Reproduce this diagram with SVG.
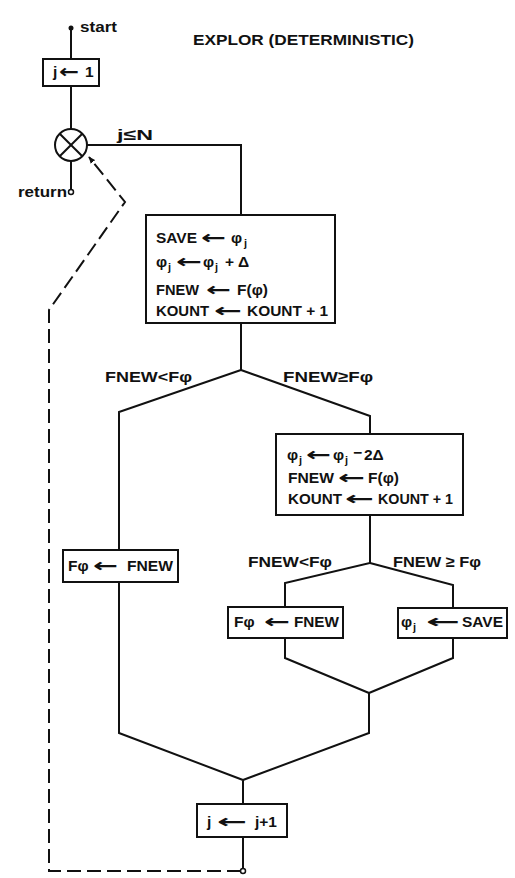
<svg xmlns="http://www.w3.org/2000/svg" width="515" height="878" viewBox="0 0 515 878">
<defs>
<style>
.t{font-family:"Liberation Sans",Arial,sans-serif;font-weight:bold;font-size:15.5px;fill:#111}
.s{font-size:11px}
.ar{font-family:"DejaVu Sans",sans-serif;font-weight:bold;font-size:19px}
.box{fill:#fff;stroke:#111;stroke-width:2}
.ln{fill:none;stroke:#111;stroke-width:2;stroke-linejoin:miter}
.dash{fill:none;stroke:#111;stroke-width:2;stroke-dasharray:14 6}
</style>
<marker id="ah" viewBox="0 0 10 10" refX="9" refY="5" markerWidth="7" markerHeight="7" orient="auto" markerUnits="userSpaceOnUse">
<path d="M0,1 L10,5 L0,9 Z" fill="#111"/>
</marker>
</defs>
<rect width="515" height="878" fill="#fff"/>

<text class="t" x="193" y="45" font-size="16" textLength="221" lengthAdjust="spacingAndGlyphs">EXPLOR (DETERMINISTIC)</text>

<g id="connectors">
<line class="ln" x1="71" y1="28" x2="71" y2="59"/>
<line class="ln" x1="71" y1="86" x2="71" y2="129"/>
<line class="ln" x1="71" y1="161" x2="71" y2="190"/>
<polyline class="ln" points="87,145 241,145 241,215"/>
<polyline class="ln" points="241,323 241,370 119,412 119,550"/>
<polyline class="ln" points="241,370 370,416 370,434"/>
<polyline class="ln" points="119,582 119,733 243,780 243,804"/>
<polyline class="ln" points="370,515 370,563 285,583 285,607"/>
<polyline class="ln" points="370,563 453,585 453,608"/>
<polyline class="ln" points="285,638 285,658 369,693"/>
<polyline class="ln" points="453,638 453,658 369,693 369,733 243,780"/>
<line class="ln" x1="243" y1="837" x2="243" y2="869"/>
<polyline class="dash" points="241,871 49,871 49,310 125,202 89,157" marker-end="url(#ah)"/>
</g>

<g id="start">
<circle cx="71" cy="28" r="2.5" fill="#111"/>
<text class="t" x="80" y="32" font-size="14" textLength="37" lengthAdjust="spacingAndGlyphs">start</text>
</g>

<g id="init">
<rect class="box" x="43" y="59" width="56" height="27"/>
<text class="t"><tspan x="53" y="77">j</tspan><tspan class="ar" x="59" y="78" textLength="20" lengthAdjust="spacingAndGlyphs">←</tspan><tspan x="85" y="77">1</tspan></text>
</g>

<g id="loop">
<circle cx="71" cy="145" r="16" fill="#fff" stroke="#111" stroke-width="2"/>
<line class="ln" x1="59.7" y1="133.7" x2="82.3" y2="156.3"/>
<line class="ln" x1="82.3" y1="133.7" x2="59.7" y2="156.3"/>
<text class="t" x="117" y="140" font-size="14" textLength="36" lengthAdjust="spacingAndGlyphs">j≤N</text>
</g>

<g id="return">
<circle cx="71" cy="192" r="2.5" fill="#fff" stroke="#111" stroke-width="1.5"/>
<text class="t" x="18" y="197" font-size="14" textLength="49" lengthAdjust="spacingAndGlyphs">return</text>
</g>

<g id="step">
<rect class="box" x="146" y="215" width="189" height="108"/>
<text class="t"><tspan x="156" y="243" textLength="41" lengthAdjust="spacingAndGlyphs">SAVE</tspan><tspan class="ar" x="201" y="244" textLength="25" lengthAdjust="spacingAndGlyphs">←</tspan><tspan x="231" y="243">φ</tspan><tspan class="s" x="244" y="247">j</tspan></text>
<text class="t"><tspan x="156" y="267">φ</tspan><tspan class="s" x="168" y="271">j</tspan><tspan class="ar" x="176" y="268" textLength="26" lengthAdjust="spacingAndGlyphs">←</tspan><tspan x="203" y="267">φ</tspan><tspan class="s" x="215" y="271">j</tspan><tspan x="225" y="267">+</tspan><tspan x="238" y="267">Δ</tspan></text>
<text class="t"><tspan x="156" y="295" textLength="43" lengthAdjust="spacingAndGlyphs">FNEW</tspan><tspan class="ar" x="206" y="296" textLength="25" lengthAdjust="spacingAndGlyphs">←</tspan><tspan x="237" y="295">F(φ)</tspan></text>
<text class="t"><tspan x="156" y="316" textLength="53" lengthAdjust="spacingAndGlyphs">KOUNT</tspan><tspan class="ar" x="214" y="317" textLength="28" lengthAdjust="spacingAndGlyphs">←</tspan><tspan x="247" y="316" textLength="81" lengthAdjust="spacingAndGlyphs">KOUNT + 1</tspan></text>
</g>

<g id="cond1">
<text class="t" x="105" y="382" font-size="14.5" textLength="87" lengthAdjust="spacingAndGlyphs">FNEW&lt;Fφ</text>
<text class="t" x="283" y="382" font-size="14.5" textLength="90" lengthAdjust="spacingAndGlyphs">FNEW≥Fφ</text>
</g>

<g id="accept1">
<rect class="box" x="63" y="550" width="115" height="32"/>
<text class="t"><tspan x="68" y="571">Fφ</tspan><tspan class="ar" x="93" y="572" textLength="25" lengthAdjust="spacingAndGlyphs">←</tspan><tspan x="127" y="571" textLength="46" lengthAdjust="spacingAndGlyphs">FNEW</tspan></text>
</g>

<g id="back">
<rect class="box" x="276" y="434" width="187" height="81"/>
<text class="t"><tspan x="287" y="460">φ</tspan><tspan class="s" x="299" y="464">j</tspan><tspan class="ar" x="306" y="461" textLength="25" lengthAdjust="spacingAndGlyphs">←</tspan><tspan x="333" y="460">φ</tspan><tspan class="s" x="345" y="464">j</tspan><tspan x="353" y="458">−</tspan><tspan x="364" y="460">2Δ</tspan></text>
<text class="t"><tspan x="288" y="483" textLength="46" lengthAdjust="spacingAndGlyphs">FNEW</tspan><tspan class="ar" x="338" y="484" textLength="27" lengthAdjust="spacingAndGlyphs">←</tspan><tspan x="368" y="483">F(φ)</tspan></text>
<text class="t"><tspan x="288" y="504" textLength="54" lengthAdjust="spacingAndGlyphs">KOUNT</tspan><tspan class="ar" x="345" y="505" textLength="29" lengthAdjust="spacingAndGlyphs">←</tspan><tspan x="378" y="504" textLength="75" lengthAdjust="spacingAndGlyphs">KOUNT + 1</tspan></text>
</g>

<g id="cond2">
<text class="t" x="248" y="567" font-size="14.5" textLength="84" lengthAdjust="spacingAndGlyphs">FNEW&lt;Fφ</text>
<text class="t" x="393" y="567" font-size="14.5" textLength="88" lengthAdjust="spacingAndGlyphs">FNEW ≥ Fφ</text>
</g>

<g id="accept2">
<rect class="box" x="228" y="607" width="115" height="31"/>
<text class="t"><tspan x="234" y="627">Fφ</tspan><tspan class="ar" x="264" y="628" textLength="26" lengthAdjust="spacingAndGlyphs">←</tspan><tspan x="294" y="627" textLength="45" lengthAdjust="spacingAndGlyphs">FNEW</tspan></text>
</g>

<g id="restore">
<rect class="box" x="398" y="608" width="109" height="30"/>
<text class="t"><tspan x="401" y="627">φ</tspan><tspan class="s" x="413" y="631">j</tspan><tspan class="ar" x="426" y="628" textLength="34" lengthAdjust="spacingAndGlyphs">←</tspan><tspan x="462" y="627" textLength="41" lengthAdjust="spacingAndGlyphs">SAVE</tspan></text>
</g>

<g id="incr">
<rect class="box" x="197" y="804" width="90" height="33"/>
<text class="t"><tspan x="207" y="827">j</tspan><tspan class="ar" x="217" y="828" textLength="30" lengthAdjust="spacingAndGlyphs">←</tspan><tspan x="255" y="827">j+1</tspan></text>
</g>

<g id="end">
<circle cx="243" cy="871" r="2.5" fill="#fff" stroke="#111" stroke-width="1.5"/>
</g>
</svg>
